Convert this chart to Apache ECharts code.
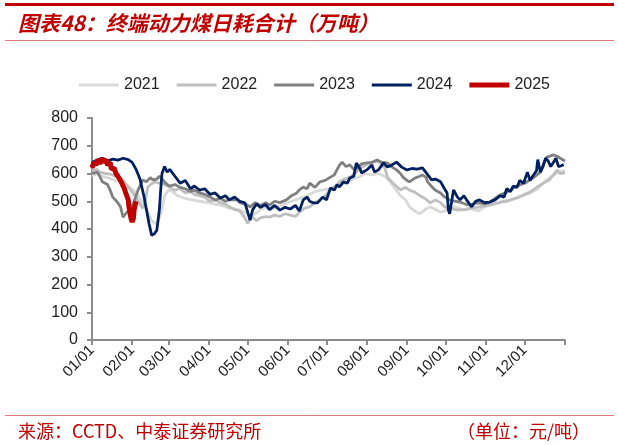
<!DOCTYPE html>
<html>
<head>
<meta charset="utf-8">
<script src="https://cdn.jsdelivr.net/npm/echarts@6/dist/echarts.min.js"></script>
<style>html,body{margin:0;padding:0;background:#fff}#c{width:619px;height:445px}</style>
</head>
<body>
<div id="c"></div>
<script>
// ---- data (day of year, value in 万吨) ----
const seriesNames = ['2021', '2022', '2023', '2024', '2025'];
const monthLabels = ['01/01','02/01','03/01','04/01','05/01','06/01','07/01','08/01','09/01','10/01','11/01','12/01'];
const monthStartDays = [0,31,59,90,120,151,181,212,243,273,304,334];
const yearEndDay = 365;
const yTicks = [0,100,200,300,400,500,600,700,800];

const s2021 = [[0,590],[4,600],[8,590],[12,585],[18,575],[23,570],[28,555],[32,540],[35.5,520],[39,495],[43,460],[46,430],[49,420],[51,425],[54,470],[56,520],[59,540],[62,535],[66,520],[72,510],[77,505],[83,500],[90,495],[95,490],[100,485],[106,475],[113,470],[118,460],[122,445],[126,455],[130,470],[134,478],[137,470],[144,480],[149,490],[154,500],[160,510],[166,520],[172,535],[177,540],[184,545],[189,555],[195,565],[201,580],[207,590],[211,600],[216,595],[221,600],[226,590],[230,570],[234,545],[238,520],[242,505],[245,480],[249,465],[253,455],[257,470],[261,480],[265,470],[269,460],[275,470],[280,480],[286,470],[292,475],[298,465],[303,480],[309,490],[315,495],[321,500],[326,510],[332,520],[338,530],[344,545],[350,575],[355,590],[360,605],[365,610]];

const s2022 = [[0,610],[4,615],[6,605],[10,600],[14,598],[18,590],[22,580],[25,570],[29,545],[33,520],[37,490],[39,475],[41,500],[43,550],[45,560],[49,570],[52,565],[56,560],[60,550],[64,540],[68,545],[72,530],[76,535],[79,525],[83,520],[87,515],[91,500],[95,505],[99,495],[103,490],[106,480],[110,470],[114,465],[118,440],[120,420],[123,445],[127,430],[130,440],[134,445],[137,443],[141,450],[145,445],[149,455],[153,450],[157,445],[160,460],[164,475],[168,480],[172,495],[176,505],[180,520],[184,541],[188,555],[191,570],[195,580],[199,587],[203,600],[207,620],[211,630],[215,638],[218,645],[222,641],[226,620],[228,587],[232,566],[238,541],[242,550],[245,540],[249,533],[253,520],[257,510],[261,494],[265,505],[269,495],[272,480],[276,475],[282,468],[288,470],[293,475],[299,480],[307,486],[315,497],[323,505],[328,512],[334,525],[338,533],[346,559],[353,577],[359,613],[361,600],[365,602]];

const s2023 = [[0,600],[4,605],[6,590],[8,570],[12,560],[14,540],[16,515],[19,500],[22,480],[24,443],[26,455],[29,470],[32,493],[34,520],[35.5,540],[38,565],[39,577],[42,570],[45,585],[47,577],[50,580],[52,590],[55,575],[58,560],[60,555],[64,560],[68,550],[72,545],[76,535],[79,540],[83,530],[87,525],[91,515],[95,505],[99,510],[103,500],[106,505],[112,505],[114,495],[118,490],[122,480],[126,495],[130,485],[134,495],[137,486],[141,500],[145,495],[150,505],[154,520],[158,530],[160,541],[163,551],[166,545],[168,565],[172,550],[176,570],[180,575],[184,587],[187,595],[189,613],[191,630],[193,641],[196,625],[199,631],[202,615],[205,620],[208,635],[212,638],[216,640],[220,649],[224,640],[228,638],[231,625],[235,613],[238,600],[240,587],[243,575],[245,570],[248,580],[251,587],[253,590],[255,595],[258,585],[259,570],[263,548],[265,540],[269,530],[272,515],[276,505],[280,500],[284,497],[288,490],[292,486],[295,492],[299,494],[303,490],[307,497],[311,510],[315,523],[319,530],[323,541],[326,550],[330,559],[334,565],[338,577],[342,590],[346,605],[349,640],[351,659],[353,662],[356,667],[359,662],[361,656],[365,645]];

const s2024 = [[0,640],[4,648],[8,655],[12,645],[16,652],[20,648],[24,655],[28,650],[31,640],[34,615],[37,580],[40,520],[42,470],[44,420],[46,378],[48,382],[50,395],[52,470],[53,540],[54,600],[56,625],[58,605],[60,615],[64,590],[68,565],[72,575],[76,545],[79,555],[83,540],[87,545],[91,525],[95,530],[99,512],[103,520],[106,505],[110,515],[114,500],[118,494],[122,432],[124,470],[127,490],[130,478],[134,488],[137,470],[141,485],[145,468],[149,478],[153,472],[157,485],[160,465],[163,505],[166,515],[168,500],[171,494],[174,494],[178,515],[181,505],[184,548],[187,540],[189,559],[191,552],[194,570],[197,565],[199,584],[202,590],[204,638],[207,615],[208,602],[212,613],[216,631],[218,605],[221,613],[225,638],[228,623],[231,630],[235,641],[239,623],[243,613],[247,618],[251,616],[255,620],[258,602],[260,590],[262,577],[265,580],[269,570],[272,545],[274,530],[275,468],[276,455],[279,541],[282,515],[284,505],[287,520],[289,505],[293,480],[296,500],[299,505],[303,495],[307,497],[311,505],[315,520],[318,515],[320,545],[323,535],[325,555],[328,550],[330,575],[333,565],[336,605],[338,575],[340,590],[343,610],[344,650],[346,605],[348,625],[350,655],[352,645],[354,625],[356,640],[358,655],[360,625],[362,628],[364,632]];

const s2025 = [[0,620],[1.5,640],[3,630],[4.5,650],[6,635],[8,655],[9,640],[11,650],[12,630],[14,640],[15,615],[17,620],[18.5,600],[20,590],[22,575],[23,570],[25,545],[26,530],[28,505],[28.5,480],[30,440],[31,425],[32,440],[32.5,470],[34,500]];

const seriesData = [s2021, s2022, s2023, s2024, s2025];
const colors = ['#d9d9d9', '#bfbfbf', '#808080', '#002060', '#c00000'];
const widths = [2.8, 2.8, 2.8, 2.8, 5];

const chart = echarts.init(document.getElementById('c'), null, {renderer: 'canvas'});
const FONT = '"Liberation Sans", Arial, sans-serif';
const CJK = '"Noto Sans CJK SC", sans-serif';

chart.setOption({
  animation: false,
  backgroundColor: '#fff',
  textStyle: {fontFamily: FONT},
  graphic: [
    {type: 'rect', shape: {x: 5, y: 3, width: 609, height: 3}, style: {fill: '#c00000'}},
    {type: 'text', x: 18, y: 23, style: {text: '图表48：终端动力煤日耗合计（万吨）', fill: '#c00000', fontSize: 21, fontWeight: 'bold', fontStyle: 'italic', fontFamily: CJK, textVerticalAlign: 'middle'}},
    {type: 'line', shape: {x1: 5, y1: 40.5, x2: 614, y2: 40.5}, style: {stroke: '#e07a7a', lineWidth: 1}},
    {type: 'line', shape: {x1: 5, y1: 415.5, x2: 614, y2: 415.5}, style: {stroke: '#e07a7a', lineWidth: 1}},
    {type: 'text', x: 18, y: 431, style: {text: '来源：CCTD、中泰证券研究所', fill: '#c00000', fontSize: 18, fontFamily: CJK, textVerticalAlign: 'middle'}},
    {type: 'text', x: 590, y: 431, style: {text: '（单位：元/吨）', fill: '#c00000', fontSize: 18, fontFamily: CJK, textAlign: 'right', textVerticalAlign: 'middle'}}
  ],
  legend: {
    data: seriesNames.map(function (n, i) {
      return {name: n, icon: 'path://M0 0H40V' + widths[i] + 'H0Z'};
    }),
    symbolKeepAspect: true,
    left: 74, top: 72,
    itemWidth: 40, itemHeight: 16, itemGap: 17,
    textStyle: {fontSize: 16, color: '#222', fontFamily: FONT}
  },
  grid: {left: 92, right: 54, top: 118, bottom: 105, containLabel: false},
  xAxis: {
    type: 'value', min: 0, max: yearEndDay,
    splitLine: {show: false},
    axisLine: {show: true, lineStyle: {color: '#8c8c8c', width: 2}},
    axisTick: {show: true, length: 5, lineStyle: {color: '#8c8c8c', width: 2}, customValues: monthStartDays.concat([yearEndDay])},
    axisLabel: {
      customValues: monthStartDays, rotate: 45, fontSize: 15, color: '#222', margin: 8,
      formatter: function (v) { const i = monthStartDays.indexOf(Math.round(v)); return i >= 0 ? monthLabels[i] : ''; }
    }
  },
  yAxis: {
    type: 'value', min: 0, max: 800, interval: 100,
    splitLine: {show: false},
    axisLine: {show: true, lineStyle: {color: '#8c8c8c', width: 2}},
    axisTick: {show: true, length: 5, lineStyle: {color: '#8c8c8c', width: 2}},
    axisLabel: {fontSize: 16, color: '#222', margin: 14,
      formatter: function (v) { return yTicks.indexOf(v) >= 0 ? String(v) : ''; }}
  },
  series: seriesNames.map(function (n, i) {
    return {
      name: n, type: 'line', data: seriesData[i], symbol: 'none', smooth: false,
      lineStyle: {color: colors[i], width: widths[i]}, itemStyle: {color: colors[i]},
      z: 2 + i
    };
  })
});
</script>
</body>
</html>
